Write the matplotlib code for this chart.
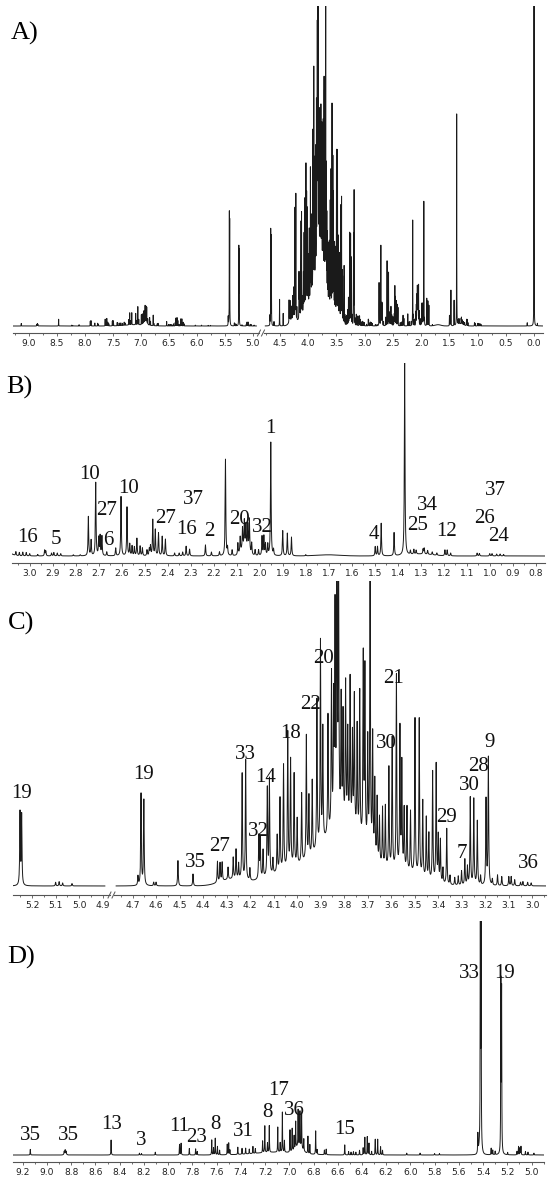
import numpy as np
import matplotlib
matplotlib.use("Agg")
import matplotlib.pyplot as plt
from matplotlib.lines import Line2D
from matplotlib.ticker import MultipleLocator, FuncFormatter

W, H = 550, 1180

# ---- panel B: aliphatic region (ppm, relative intensity) ----
b_ppm = [3.10, 3.06, 3.045, 3.03, 3.015, 3.0, 2.965, 2.935, 2.93, 2.905, 2.895, 2.88,
         2.865, 2.81, 2.78, 2.745, 2.733, 2.713, 2.70, 2.694, 2.686, 2.665, 2.626,
         2.603, 2.577, 2.565, 2.555, 2.545, 2.534, 2.52, 2.51, 2.49, 2.48, 2.475,
         2.465, 2.454, 2.44, 2.424, 2.41, 2.37, 2.35, 2.335, 2.32, 2.305, 2.236,
         2.21, 2.175, 2.149, 2.14, 2.12, 2.095, 2.085, 2.075, 2.067, 2.06, 2.052,
         2.045, 2.035, 2.02, 2.005, 1.99, 1.982, 1.975, 1.965, 1.952, 1.94, 1.90,
         1.88, 1.862, 1.80, 1.498, 1.488, 1.472, 1.416, 1.37, 1.345, 1.33, 1.32,
         1.29, 1.285, 1.27, 1.25, 1.23, 1.195, 1.185, 1.17, 1.055, 1.045, 1.0,
         0.99, 0.97, 0.955, 0.94]
b_int = [0.035, 0.02, 0.018, 0.02, 0.018, 0.012, 0.008, 0.03, 0.025, 0.015, 0.018, 0.015,
         0.012, 0.006, 0.006, 0.203, 0.08, 0.379, 0.09, 0.1, 0.1, 0.02, 0.04,
         0.307, 0.252, 0.06, 0.05, 0.045, 0.09, 0.05, 0.04, 0.03, 0.035, 0.05,
         0.186, 0.134, 0.117, 0.1, 0.086, 0.015, 0.015, 0.02, 0.05, 0.035, 0.057,
         0.02, 0.02, 0.5, 0.04, 0.03, 0.06, 0.08, 0.11, 0.14, 0.12, 0.13,
         0.17, 0.06, 0.03, 0.03, 0.1, 0.1, 0.06, 0.057, 0.588, 0.03, 0.13,
         0.117, 0.097, 0.006, 0.048, 0.048, 0.169, 0.12, 1.0, 0.02, 0.025, 0.02,
         0.025, 0.03, 0.02, 0.015, 0.012, 0.03, 0.03, 0.015, 0.015, 0.013, 0.012,
         0.012, 0.01, 0.01, 0.008]
b_humps = [(2.065, 0.04, 0.015), (3.10, 0.02, 0.02), (1.30, 0.01, 0.05), (1.70, 0.006, 0.05)]
b_lab_txt = ["16", "5", "10", "27", "6", "10", "27", "37", "16", "2", "20", "32", "1",
             "4", "25", "34", "12", "37", "26", "24"]
b_lab_ppm = [3.011, 2.885, 2.74, 2.667, 2.66, 2.569, 2.409, 2.29, 2.32, 2.221, 2.09, 1.99,
             1.953, 1.503, 1.315, 1.273, 1.186, 0.976, 1.024, 0.963]
b_lab_y = [0.097, 0.086, 0.424, 0.234, 0.079, 0.35, 0.195, 0.295, 0.138, 0.126, 0.191,
           0.147, 0.66, 0.109, 0.16, 0.264, 0.129, 0.341, 0.195, 0.1]

# ---- panel C: carbohydrate region ----
c_ppm = [5.252, 5.245, 5.10, 5.085, 5.07, 5.03, 4.677, 4.664, 4.652, 4.61, 4.60, 4.507,
         4.443, 4.339, 4.328, 4.319, 4.294, 4.272, 4.26, 4.249, 4.234, 4.219, 4.201,
         4.163, 4.157, 4.145, 4.127, 4.118, 4.103, 4.085, 4.073, 4.058, 4.040, 4.028,
         4.013, 4.0, 3.981, 3.961, 3.95, 3.936, 3.916, 3.901, 3.891, 3.869, 3.854,
         3.845, 3.839, 3.831, 3.824, 3.813, 3.805, 3.794, 3.785, 3.775, 3.765, 3.757,
         3.745, 3.734, 3.719, 3.712, 3.70, 3.69, 3.679, 3.67, 3.66, 3.65, 3.637,
         3.625, 3.61, 3.596, 3.578, 3.563, 3.555, 3.545, 3.533, 3.518, 3.499, 3.481,
         3.466, 3.451, 3.44, 3.424, 3.409, 3.40, 3.391, 3.38, 3.364, 3.35, 3.33,
         3.315, 3.301, 3.287, 3.276, 3.264, 3.249, 3.234, 3.22, 3.197, 3.187, 3.17,
         3.148, 3.13, 3.10, 3.09, 3.075, 3.05, 3.04, 3.02, 3.005]
c_int = [0.238, 0.229, 0.012, 0.014, 0.01, 0.008, 0.03, 0.30, 0.28, 0.012, 0.012, 0.083,
         0.039, 0.069, 0.061, 0.061, 0.04, 0.07, 0.096, 0.05, 0.347, 0.393, 0.04,
         0.14, 0.13, 0.09, 0.287, 0.314, 0.05, 0.12, 0.238, 0.342, 0.443, 0.35,
         0.30, 0.15, 0.227, 0.407, 0.2, 0.243, 0.489, 0.666, 0.369, 0.39, 0.505,
         0.4, 0.686, 1.0, 0.85, 0.4, 0.35, 0.456, 0.3, 0.478, 0.3, 0.434,
         0.35, 0.473, 0.604, 0.566, 0.35, 0.99, 0.39, 0.25, 0.205, 0.15, 0.19,
         0.2, 0.33, 0.429, 0.636, 0.462, 0.347, 0.2, 0.21, 0.2, 0.51, 0.514,
         0.249, 0.2, 0.15, 0.358, 0.385, 0.15, 0.14, 0.05, 0.183, 0.03, 0.025,
         0.03, 0.047, 0.085, 0.06, 0.287, 0.282, 0.21, 0.03, 0.28, 0.418, 0.02,
         0.035, 0.03, 0.03, 0.03, 0.02, 0.012, 0.014, 0.012, 0.01]
c_humps = [(3.80, 0.19, 0.09), (4.02, 0.05, 0.10), (3.55, 0.04, 0.08), (4.28, 0.02, 0.05)]
c_lab_txt = ["19", "19", "35", "27", "33", "14", "32", "18", "22", "20", "21", "30",
             "29", "7", "30", "28", "9", "36"]
c_lab_ppm = [5.245, 4.652, 4.431, 4.331, 4.219, 4.133, 4.167, 4.028, 3.942, 3.888, 3.59,
             3.619, 3.366, 3.301, 3.267, 3.23, 3.182, 3.018]
c_lab_y = [0.303, 0.367, 0.076, 0.129, 0.431, 0.356, 0.178, 0.5, 0.596, 0.746, 0.68,
           0.467, 0.224, 0.107, 0.331, 0.391, 0.469, 0.074]

# ---- panel D: aromatic / anomeric region ----
d_ppm = [9.138, 8.858, 8.850, 8.842, 8.471, 8.237, 8.22, 8.106, 7.906, 7.893, 7.825,
         7.773, 7.76, 7.64, 7.625, 7.611, 7.593, 7.575, 7.512, 7.50, 7.49, 7.425,
         7.39, 7.36, 7.33, 7.30, 7.28, 7.22, 7.202, 7.18, 7.165, 7.095, 7.075, 7.057,
         7.04, 6.994, 6.976, 6.96, 6.947, 6.927, 6.912, 6.898, 6.88, 6.846, 6.83,
         6.782, 6.77, 6.71, 6.695, 6.542, 6.51, 6.49, 6.47, 6.45, 6.42, 6.39, 6.376,
         6.356, 6.342, 6.32, 6.29, 6.27, 6.246, 6.23, 6.03, 5.92, 5.80, 5.76, 5.443,
         5.4225, 5.4165, 5.333, 5.32, 5.30, 5.253, 5.247, 5.197, 5.12, 5.107, 5.095,
         5.087, 5.05, 5.029, 4.98]
d_int = [0.024, 0.012, 0.016, 0.012, 0.064, 0.008, 0.006, 0.012, 0.045, 0.05, 0.028,
         0.026, 0.015, 0.064, 0.03, 0.071, 0.036, 0.02, 0.045, 0.05, 0.02, 0.031,
         0.025, 0.025, 0.02, 0.03, 0.02, 0.05, 0.114, 0.04, 0.114, 0.107, 0.04, 0.171,
         0.05, 0.095, 0.098, 0.06, 0.114, 0.156, 0.149, 0.147, 0.05, 0.074, 0.04,
         0.1, 0.02, 0.02, 0.024, 0.043, 0.015, 0.012, 0.014, 0.012, 0.02, 0.03, 0.075,
         0.078, 0.05, 0.015, 0.067, 0.067, 0.035, 0.02, 0.008, 0.008, 0.006, 0.006, 0.078,
         1.0, 0.93, 0.028, 0.02, 0.015, 0.72, 0.685, 0.01, 0.015, 0.036, 0.03,
         0.036, 0.015, 0.012, 0.008]
d_humps = [(6.92, 0.03, 0.03), (5.425, 0.03, 0.012), (7.10, 0.012, 0.18), (8.85, 0.006, 0.01)]
d_lab_txt = ["35", "35", "13", "3", "11", "23", "8", "31", "8", "17", "36", "15", "33", "19"]
d_lab_ppm = [9.135, 8.825, 8.469, 8.225, 7.912, 7.767, 7.608, 7.382, 7.182, 7.086, 6.962,
             6.544, 5.513, 5.226]
d_lab_y = [0.085, 0.085, 0.131, 0.064, 0.121, 0.074, 0.131, 0.1, 0.182, 0.275, 0.192,
           0.11, 0.775, 0.775]

# ---- panel A: full spectrum, built from the same signals ----
a_scale_b = 0.66   # aliphatic part relative to full-scale
a_scale_d = 0.33   # aromatic part relative to full-scale
a_extra_ppm = [0.12, 0.0, -0.06]
a_extra_int = [0.01, 1.0, 0.008]

HWHM = 0.0016
SERIF = ["Liberation Serif", "DejaVu Serif"]


def spectrum(x, ppm, inten, humps=(), scale=1.0, keep=None):
    y = np.zeros_like(x)
    for p, h in zip(ppm, inten):
        if keep is not None and not keep(p):
            continue
        y += scale * h * HWHM**2 / ((x - p)**2 + HWHM**2)
    for c, h, s in humps:
        if keep is not None and not keep(c):
            continue
        y += scale * h * np.exp(-0.5 * ((x - c) / s)**2)
    return y


def grid(lo, hi, ppm_lists, step=0.0003):
    x = np.arange(lo, hi, step)
    extra = np.concatenate([np.asarray(p, float) for p in ppm_lists])
    extra = extra[(extra > lo) & (extra < hi)]
    return np.union1d(x, extra)


def add_axes(fig, x0, x1, y_axis, y_base, y_top, xlim, major, minor):
    ax = fig.add_axes([x0 / W, 1 - y_axis / H, (x1 - x0) / W, (y_axis - y_top) / H])
    ax.set_xlim(*xlim)
    ax.set_ylim(-(y_axis - y_base) / (y_base - y_top), 1.0)
    for s in ("left", "right", "top"):
        ax.spines[s].set_visible(False)
    ax.spines["bottom"].set_color("#555555")
    ax.spines["bottom"].set_linewidth(0.8)
    ax.set_yticks([])
    ax.xaxis.set_major_locator(MultipleLocator(major))
    ax.xaxis.set_minor_locator(MultipleLocator(minor))
    ax.xaxis.set_major_formatter(FuncFormatter(lambda v, p: f"{abs(v) if abs(v) < 1e-9 else v:.1f}"))
    ax.tick_params(axis="x", which="major", length=2.2, width=0.6, color="#555555",
                   pad=2.0, labelsize=6.6, labelcolor="#222222")
    ax.tick_params(axis="x", which="minor", length=1.4, width=0.6, color="#555555")
    for lab in ax.get_xticklabels():
        lab.set_family("DejaVu Sans")
    ax.patch.set_alpha(0)
    return ax


def break_mark(fig, x, y):
    for dx in (-2.5, 1.5):
        fig.add_artist(Line2D([(x + dx - 1.5) / W, (x + dx + 1.5) / W],
                              [1 - (y + 3) / H, 1 - (y - 3) / H],
                              color="#555555", lw=0.7))


def label(ax, txt, ppm, yv):
    ax.text(ppm, yv, txt, ha="center", va="center", fontsize=15, family=SERIF,
            color="#111111", clip_on=False)


LINE = dict(color="#1a1a1a", lw=0.7)

fig = plt.figure(figsize=(W / 100, H / 100), dpi=100)

# ---- A ----
in_b = lambda p: p < 2.98
in_c = lambda p: 2.98 <= p < 4.88
in_d = lambda p: p >= 4.88
all_ppm = [b_ppm, c_ppm, d_ppm, a_extra_ppm]


def full(x):
    return (spectrum(x, b_ppm, b_int, b_humps, a_scale_b, in_b)
            + spectrum(x, c_ppm, c_int, c_humps, 1.0, in_c)
            + spectrum(x, d_ppm, d_int, d_humps, a_scale_d, in_d)
            + spectrum(x, a_extra_ppm, a_extra_int))


axA1 = add_axes(fig, 13, 259, 333, 326, 6, (9.286, 4.893), 0.5, 0.25)
axA2 = add_axes(fig, 264, 543, 333, 326, 6, (4.783, -0.159), 0.5, 0.25)
x = grid(4.94, 9.29, all_ppm)
axA1.plot(x, full(x), **LINE)
x = grid(-0.15, 4.76, all_ppm)
axA2.plot(x, full(x), **LINE)
break_mark(fig, 261.5, 333)
fig.text(25 / W, 1 - 33 / H, "A)", fontsize=19, family=SERIF, ha="center", va="center")

# ---- B ----
axB = add_axes(fig, 12, 545, 563, 556, 363, (3.077, 0.76), 0.1, 0.05)
x = grid(0.76, 3.077, [b_ppm])
axB.plot(x, spectrum(x, b_ppm, b_int, b_humps), **LINE)
for t, p, yv in zip(b_lab_txt, b_lab_ppm, b_lab_y):
    label(axB, t, p, yv)
fig.text(19 / W, 1 - 387 / H, "B)", fontsize=19, family=SERIF, ha="center", va="center")

# ---- C ----
axC1 = add_axes(fig, 13, 110, 895, 886, 581, (5.282, 4.868), 0.1, 0.05)
axC2 = add_axes(fig, 114, 546, 895, 886, 581, (4.779, 2.942), 0.1, 0.05)
x = grid(4.89, 5.282, [c_ppm])
axC1.plot(x, spectrum(x, c_ppm, c_int, c_humps), **LINE)
x = grid(2.942, 4.77, [c_ppm])
axC2.plot(x, spectrum(x, c_ppm, c_int, c_humps), **LINE)
for t, p, yv in zip(c_lab_txt, c_lab_ppm, c_lab_y):
    label(axC1 if p > 4.85 else axC2, t, p, yv)
break_mark(fig, 112, 895)
fig.text(21 / W, 1 - 623 / H, "C)", fontsize=19, family=SERIF, ha="center", va="center")

# ---- D ----
axD = add_axes(fig, 13, 544, 1162, 1155, 921, (9.281, 4.897), 0.2, 0.1)
x = grid(4.897, 9.281, [d_ppm])
axD.plot(x, spectrum(x, d_ppm, d_int, d_humps), **LINE)
for t, p, yv in zip(d_lab_txt, d_lab_ppm, d_lab_y):
    label(axD, t, p, yv)
fig.text(21 / W, 1 - 957 / H, "D)", fontsize=19, family=SERIF, ha="center", va="center")

fig.savefig("out.png", dpi=100)
